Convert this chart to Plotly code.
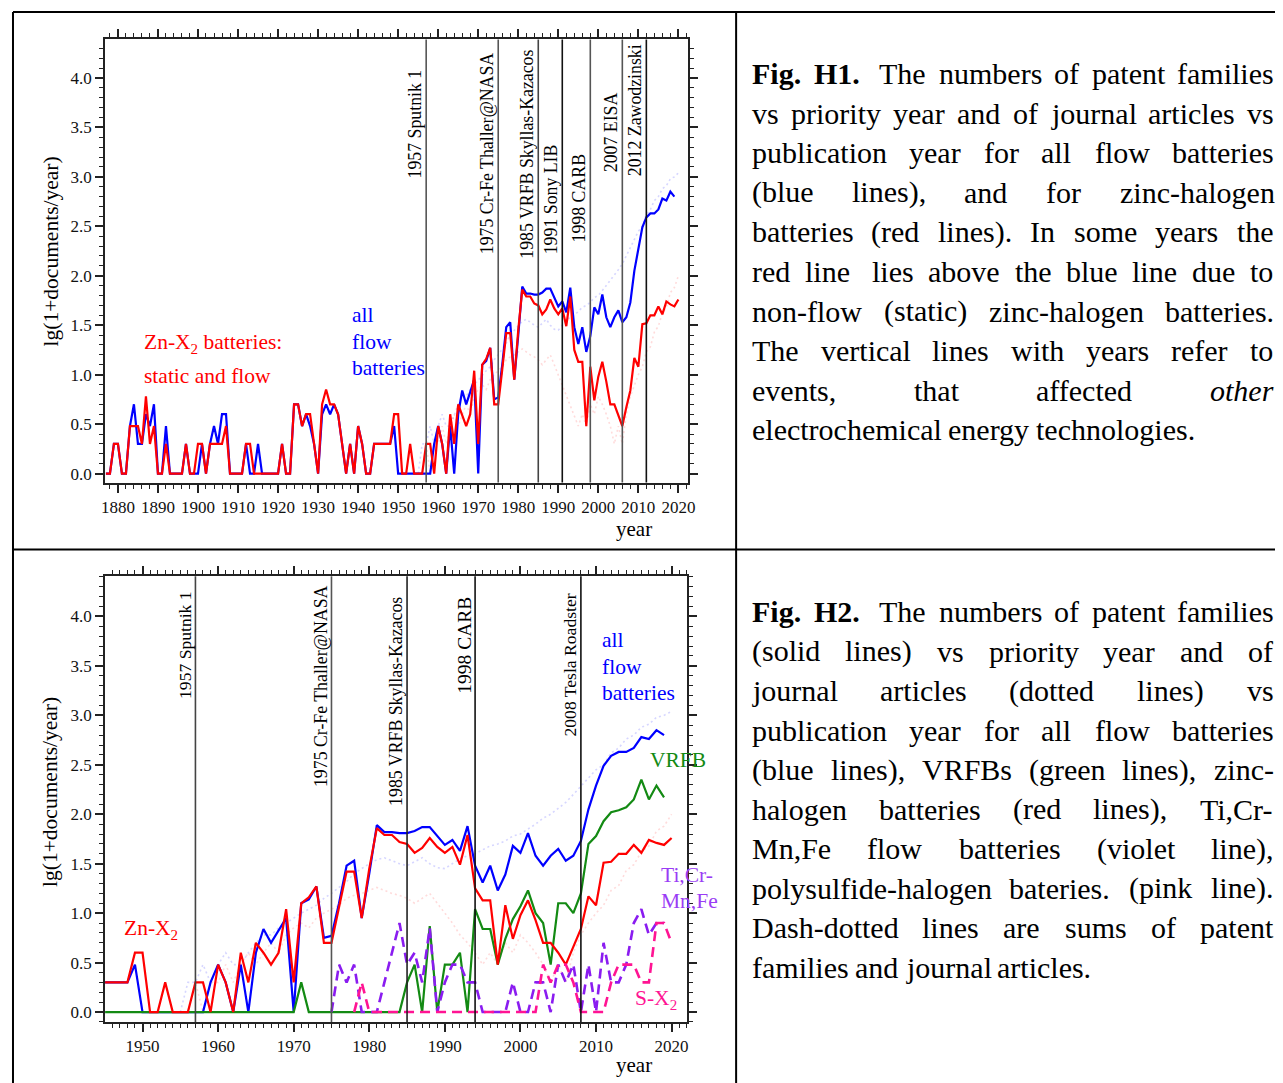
import plotly.graph_objects as go

# ======================= DATA =======================
# lg(1+documents/year)
patent_years = list(range(1877, 2021))            # Zn-X2 patents, 1877-2020
znx_patents = [
    0, 0, .30,
    .30, 0, 0, .48, .48, .48, .30, .78, .30, .48,
    0, 0, .30, 0, 0, 0, 0, .30, 0, 0,
    .30, .30, 0, .30, .30, .30, .30, .48, 0, 0,
    0, 0, .30, .30, 0, 0, 0, 0, 0, 0,
    0, .30, 0, 0, .70, .70, .48, .60, .60, .30,
    0, .70, .85, .70, .70, .60, .30, 0, .30, 0,
    .48, .30, 0, 0, .30, .30, .30, .30, .30, .60,
    .60, 0, 0, .30, 0, 0, 0, .30, .30, 0,
    .48, .30, 0, .60, .30, .70, .60, .48, .60, 1.04,
    .30, 1.10, 1.16, 1.27, .70, .70, 1.05, 1.42, 1.42, .95,
    1.45, 1.86, 1.79, 1.79, 1.72, 1.70, 1.61, 1.66, 1.76, 1.67,
    1.61, 1.67, 1.49, 1.79, 1.25, 1.13, 1.13, .48, 1.08, .74,
    .98, 1.13, .93, .70, .70, .60, .48, .67, .84, 1.17,
    1.08, 1.51, 1.52, 1.60, 1.60, 1.69, 1.61, 1.74, 1.71, 1.69,
    1.76]

flow_years = list(range(1877, 2020))              # all flow batteries patents
flow_patents = [
    0, 0, .30,
    .30, 0, 0, .48, .70, .30, .30, .60, .48, .70,
    0, 0, .48, 0, 0, 0, 0, .30, 0, 0,
    0, .30, 0, .30, .48, .30, .60, .60, 0, 0,
    0, 0, .30, 0, 0, .30, 0, 0, 0, 0,
    0, .30, 0, 0, .70, .70, .48, .60, .48, .30,
    0, .60, .70, .60, .70, .60, .30, 0, .30, 0,
    .48, .30, 0, 0, .30, .30, .30, .30, .30, .48,
    0, 0, 0, 0, 0, 0, 0, 0, 0, .30,
    .48, .30, 0, .48, 0, .60, .84, .70, .83, .95,
    0, 1.10, 1.14, 1.27, .75, .77, 1.10, 1.48, 1.53, .95,
    1.40, 1.89, 1.82, 1.82, 1.81, 1.81, 1.83, 1.87, 1.87, 1.78,
    1.69, 1.74, 1.63, 1.88, 1.48, 1.31, 1.48, 1.23, 1.39, 1.68,
    1.61, 1.81, 1.58, 1.48, 1.58, 1.65, 1.53, 1.58, 1.73, 2.05,
    2.29, 2.49, 2.59, 2.63, 2.63, 2.67, 2.78, 2.76, 2.85, 2.80]

vrfb_years = list(range(1945, 2020))
vrfb_patents = [
    0, 0, 0, 0, 0,
    0, 0, 0, 0, 0, 0, 0, 0, 0, 0,
    0, 0, 0, 0, 0, 0, 0, 0, 0, 0,
    0, .30, 0, 0, 0, 0, 0, 0, 0, 0,
    0, 0, 0, 0, 0, .30, .48, 0, .87, 0,
    .48, .48, .60, 0, 1.04, .84, .84, .48, .74, .94,
    1.07, 1.23, 1.00, .90, .48, 1.10, 1.10, 1.00, 1.20, 1.70,
    1.78, 1.93, 2.02, 2.04, 2.07, 2.15, 2.35, 2.15, 2.29, 2.17]

ticr_years = list(range(1975, 2020))              # Ti,Cr-Mn,Fe
ticr_patents = [
    0, .48, .30, .48, 0,
    0, 0, .30, .60, .90, .48, .60, .30, .85, 0,
    .30, .48, .48, .30, .30, 0, 0, 0, 0, .30,
    0, 0, .30, .30, 0, .48, .30, .48, 0, .48,
    0, .70, .30, .30, .48, .90, 1.04, .78, .90, .90]

sx_years = list(range(1978, 2021))                # S-X2
sx_patents = [
    0, .30,
    0, 0, 0, 0, 0, 0, 0, 0, 0, 0,
    0, 0, 0, 0, 0, 0, 0, 0, 0, 0,
    0, 0, 0, .48, .30, .48, .48, .30, 0, 0,
    0, 0, .30, .48, .48, .48, .30, .30, .90, .90,
    .70]

article_years = list(range(1955, 2021))           # journal articles (dotted)
flow_articles = [
    0, .30, .30, .48, .30,
    .48, .60, .48, .48, .60, .70, .78, .78, .85, .90,
    .95, 1.00, 1.04, 1.08, 1.15, 1.20, 1.26, 1.32, 1.40, 1.45,
    1.50, 1.54, 1.56, 1.53, 1.50, 1.48, 1.52, 1.56, 1.50, 1.46,
    1.45, 1.50, 1.55, 1.58, 1.60, 1.64, 1.68, 1.70, 1.73, 1.78,
    1.80, 1.85, 1.90, 1.96, 2.00, 2.06, 2.12, 2.20, 2.28, 2.36,
    2.45, 2.50, 2.62, 2.67, 2.76, 2.80, 2.88, 2.91, 2.98, 3.00,
    3.04]
znx_articles = [
    0, 0, .30, 0, .30,
    .30, .48, .30, .48, .60, .48, .60, .70, .60, .78,
    .85, .90, .85, .95, 1.00, 1.04, 1.08, 1.15, 1.18, 1.20,
    1.23, 1.26, 1.23, 1.20, 1.18, 1.15, 1.10, 1.15, 1.20, 1.10,
    1.00, .90, .78, .70, .60, .48, .60, .48, .70, .60,
    .78, .70, .60, .48, .30, .48, .30, .60, .78, .90,
    1.00, 1.08, 1.23, 1.28, 1.43, 1.49, 1.62, 1.68, 1.83, 1.88,
    2.00]

events_top_years = [1957, 1975, 1985, 1991, 1998, 2006, 2012]
events_top_labels = ["1957 Sputnik 1", "1975 Cr-Fe Thaller@NASA", "1985 VRFB Skyllas-Kazacos",
                     "1991 Sony LIB", "1998 CARB", "2007 EISA", "2012 Zawodzinski"]
events_bot_years = [1957, 1975, 1985, 1994, 2008]
events_bot_labels = ["1957 Sputnik 1", "1975 Cr-Fe Thaller@NASA", "1985 VRFB Skyllas-Kazacos",
                     "1998 CARB", "2008 Tesla Roadster"]

y_tick_values = [0, 0.5, 1, 1.5, 2, 2.5, 3, 3.5, 4]

caption_h1 = [
    "**Fig.** **H1.**  The numbers of patent families",
    "vs priority year and of journal articles vs",
    "publication year for all flow batteries",
    "(blue lines), and for zinc-halogen",
    "batteries (red lines). In some years the",
    "red line  lies above the blue line due to",
    "non-flow (static) zinc-halogen batteries.",
    "The vertical lines with years refer to",
    "events, that affected __other__",
    "electrochemical energy technologies.",
]
caption_h2 = [
    "**Fig.** **H2.**  The numbers of patent families",
    "(solid lines) vs priority year and of",
    "journal articles (dotted lines) vs",
    "publication year for all flow batteries",
    "(blue lines), VRFBs (green lines), zinc-",
    "halogen batteries (red lines), Ti,Cr-",
    "Mn,Fe flow batteries (violet line),",
    "polysulfide-halogen bateries. (pink line).",
    "Dash-dotted lines are sums of patent",
    "families and journal articles.",
]

# ======================= STYLE / LAYOUT =======================
FONT = "Liberation Serif"
OFF = 8                       # the page body keeps a default 8px margin
W, H = 1283 - OFF, 1083 - OFF
BLUE, RED, GREEN, VIOLET, PINK = "#0000ff", "#ff0000", "#138a13", "#8a1cf0", "#ff1493"


def px(x):
    return (x - OFF) / W


def py(y):
    return 1 - (y - OFF) / H


fig = go.Figure()


def add_line(x, y, color, width, xa, ya, dash="solid"):
    fig.add_trace(go.Scatter(x=x, y=y, mode="lines", line=dict(color=color, width=width, dash=dash),
                             xaxis=xa, yaxis=ya, showlegend=False, hoverinfo="skip"))


def window(xs, ys, start):
    pairs = [(a, b) for a, b in zip(xs, ys) if a >= start]
    return [p[0] for p in pairs], [p[1] for p in pairs]


FAINT_B = "rgba(90,90,255,0.25)"
FAINT_R = "rgba(255,90,90,0.22)"
DOTS = "2px,3px"

# --- top chart
add_line(article_years, flow_articles, FAINT_B, 1.6, "x", "y", DOTS)
add_line(article_years, znx_articles, FAINT_R, 1.6, "x", "y", DOTS)
add_line(flow_years, flow_patents, BLUE, 2.2, "x", "y")
add_line(patent_years, znx_patents, RED, 2.2, "x", "y")

# --- bottom chart
add_line(article_years, flow_articles, FAINT_B, 1.6, "x2", "y2", DOTS)
add_line(article_years, znx_articles, FAINT_R, 1.6, "x2", "y2", DOTS)
bx, by = window(flow_years, flow_patents, 1945)
add_line(bx, by, BLUE, 2.2, "x2", "y2")
add_line(vrfb_years, vrfb_patents, GREEN, 2.2, "x2", "y2")
rx, ry = window(patent_years, znx_patents, 1945)
add_line(rx, ry, RED, 2.2, "x2", "y2")
add_line(ticr_years, ticr_patents, VIOLET, 2.6, "x2", "y2", "10px,6px")
add_line(sx_years, sx_patents, PINK, 2.6, "x2", "y2", "10px,6px")

AX = "#222"
TICKFONT = dict(family=FONT, size=17, color="#111")


def xaxis(rng, tick0, minor_dtick, dom, anchor):
    return dict(domain=dom, range=rng, anchor=anchor, tick0=tick0, dtick=10, showline=True,
                linecolor=AX, linewidth=2, mirror="ticks", ticks="outside", ticklen=8,
                tickwidth=1.5, tickcolor=AX, showgrid=False, zeroline=False, tickfont=TICKFONT,
                minor=dict(ticks="outside", ticklen=4, tickwidth=1.2, tickcolor=AX,
                           dtick=minor_dtick, showgrid=False))


def yaxis(rng, dom, anchor):
    return dict(domain=dom, range=rng, anchor=anchor, tickvals=y_tick_values, tickformat=".1f",
                showline=True, linecolor=AX, linewidth=2, mirror="ticks", ticks="outside",
                ticklen=8, tickwidth=1.5, tickcolor=AX, showgrid=False, zeroline=False,
                tickfont=TICKFONT,
                minor=dict(ticks="outside", ticklen=4, tickwidth=1.2, tickcolor=AX,
                           dtick=0.1, tick0=0, showgrid=False))


top_xdom = [px(102), px(690)]
top_ydom = [py(483), py(39.5)]
bot_xdom = [px(102), px(689.5)]
bot_ydom = [py(1023), py(576.7)]

fig.update_layout(
    width=W, height=H, margin=dict(l=0, r=0, t=0, b=0),
    paper_bgcolor="white", plot_bgcolor="white",
    font=dict(family=FONT, color="black"),
    xaxis=xaxis([1876.8, 2022.3], 1880, 2, top_xdom, "y"),
    yaxis=yaxis([-0.091, 4.389], top_ydom, "x"),
    xaxis2=xaxis([1945.05, 2022.05], 1950, 1, bot_xdom, "y2"),
    yaxis2=yaxis([-0.101, 4.407], bot_ydom, "x2"),
)

shapes = []
annotations = []

# event lines + labels
top_label_y = [2.97, 2.21, 2.16, 2.21, 2.33, 3.04, 3.0]
top_line_col = ["#555", "#555", "#444", "#111", "#555", "#555", "#111"]
for yr, lab, ly, col in zip(events_top_years, events_top_labels, top_label_y, top_line_col):
    shapes.append(dict(type="line", xref="x", yref="y domain", x0=yr, x1=yr, y0=0, y1=1,
                       line=dict(color=col, width=1.6)))
    annotations.append(dict(xref="x", yref="y", x=yr, y=ly, text=lab, textangle=-90,
                            xanchor="right", yanchor="bottom", showarrow=False, borderpad=0,
                            font=dict(family=FONT, size=17.8, color="black")))

bot_label_y = [3.16, 2.27, 2.07, 3.21, 2.78]
bot_label_size = [17.6, 17.8, 17.8, 19.5, 17.6]
bot_line_col = ["#444", "#555", "#222", "#111", "#111"]
for yr, lab, ly, fs, col in zip(events_bot_years, events_bot_labels, bot_label_y, bot_label_size,
                                bot_line_col):
    shapes.append(dict(type="line", xref="x2", yref="y2 domain", x0=yr, x1=yr, y0=0, y1=1,
                       line=dict(color=col, width=1.6)))
    annotations.append(dict(xref="x2", yref="y2", x=yr, y=ly, text=lab, textangle=-90,
                            xanchor="right", yanchor="bottom", showarrow=False, borderpad=0,
                            font=dict(family=FONT, size=fs, color="black")))


def label(x, y, text, color, size=21.5, angle=0, xanchor="left"):
    annotations.append(dict(xref="paper", yref="paper", x=px(x), y=py(y), text=text,
                            textangle=angle, xanchor=xanchor, yanchor="middle", showarrow=False,
                            borderpad=0, font=dict(family=FONT, size=size, color=color)))


# in-chart labels, top
label(140, 344, "Zn-X<sub>2</sub> batteries:", RED)
label(140, 376, "static and flow", RED)
label(350, 315, "all", BLUE)
label(350, 342, "flow", BLUE)
label(350, 368, "batteries", BLUE)
# in-chart labels, bottom
label(120, 930, "Zn-X<sub>2</sub>", RED)
label(603, 641, "all", BLUE)
label(603, 668, "flow", BLUE)
label(603, 694, "batteries", BLUE)
label(651, 761, "VRFB", GREEN)
label(662, 876, "Ti,Cr-", "#9a3cf5")
label(662, 902, "Mn,Fe", "#9a3cf5")
label(636, 1000, "S-X<sub>2</sub>", PINK)

# axis titles
label(47, 252, "lg(1+documents/year)", "black", size=21.5, angle=-90, xanchor="center")
label(47, 793, "lg(1+documents/year)", "black", size=21.5, angle=-90, xanchor="center")
label(636, 529, "year", "black", size=21, xanchor="center")
label(636, 1066, "year", "black", size=21, xanchor="center")

# table borders
BORDER = dict(color="black", width=2)
for x0, y0, x1, y1 in [(9, 12, 1290, 12), (9, 12, 9, 1090), (739, 12, 739, 1090),
                       (9, 550, 1290, 550)]:
    shapes.append(dict(type="line", xref="paper", yref="paper", x0=px(x0), y0=py(y0),
                       x1=px(x1), y1=py(y1), line=BORDER))

# justified captions (Times / Liberation Serif metrics)
ROMAN = {' ': 250, '(': 333, ')': 333, ',': 250, '.': 250, '-': 333, ':': 278, '@': 921,
         'A': 722, 'B': 667, 'C': 667, 'D': 722, 'E': 611, 'F': 556, 'G': 722, 'H': 722,
         'I': 333, 'M': 889, 'N': 722, 'R': 667, 'S': 556, 'T': 611, 'V': 722, 'X': 722,
         'a': 444, 'b': 500, 'c': 444, 'd': 500, 'e': 444, 'f': 333, 'g': 500, 'h': 500,
         'i': 278, 'j': 278, 'k': 500, 'l': 278, 'm': 778, 'n': 500, 'o': 500, 'p': 500,
         'q': 500, 'r': 333, 's': 389, 't': 278, 'u': 500, 'v': 500, 'w': 722, 'x': 500,
         'y': 500, 'z': 444}
BOLD = {'F': 611, 'i': 278, 'g': 500, '.': 250, 'H': 778, '1': 500, '2': 500}
ITAL = {'o': 500, 't': 278, 'h': 500, 'e': 444, 'r': 389}
DIG = 500
CAP = 30


def wwidth(word, style):
    tbl = BOLD if style == "b" else ITAL if style == "i" else ROMAN
    return sum(tbl.get(c, ROMAN.get(c, DIG)) for c in word) / 1000 * CAP


def caption(lines, y_first, dy, x0=754, x1=1280):
    for i, line in enumerate(lines):
        toks = line.split(" ")
        words = []
        for t in toks:
            if t == "":
                if words:
                    words[-1][2] += 0.25 * CAP
                continue
            style = ""
            if t.startswith("**"):
                style, t = "b", t.strip("*")
            elif t.startswith("__"):
                style, t = "i", t.strip("_")
            words.append([t, style, 0.0])
        widths = [wwidth(w[0], w[1]) for w in words]
        total = sum(widths) + sum(w[2] for w in words[:-1])
        last = i == len(lines) - 1
        gap = 0.25 * CAP if (last or len(words) < 2) else (x1 - x0 - total) / (len(words) - 1)
        x = x0
        yc = y_first + i * dy
        for (t, style, extra), wd in zip(words, widths):
            txt = f"<b>{t}</b>" if style == "b" else f"<i>{t}</i>" if style == "i" else t
            annotations.append(dict(xref="paper", yref="paper", x=px(x), y=py(yc), text=txt,
                                    xanchor="left", yanchor="middle", showarrow=False,
                                    borderpad=0,
                                    font=dict(family=FONT, size=CAP, color="black")))
            x += wd + extra + gap


caption(caption_h1, 74, 39.55)
caption(caption_h2, 612, 39.6)

fig.update_layout(shapes=shapes, annotations=annotations)
fig.write_html("out.html")
